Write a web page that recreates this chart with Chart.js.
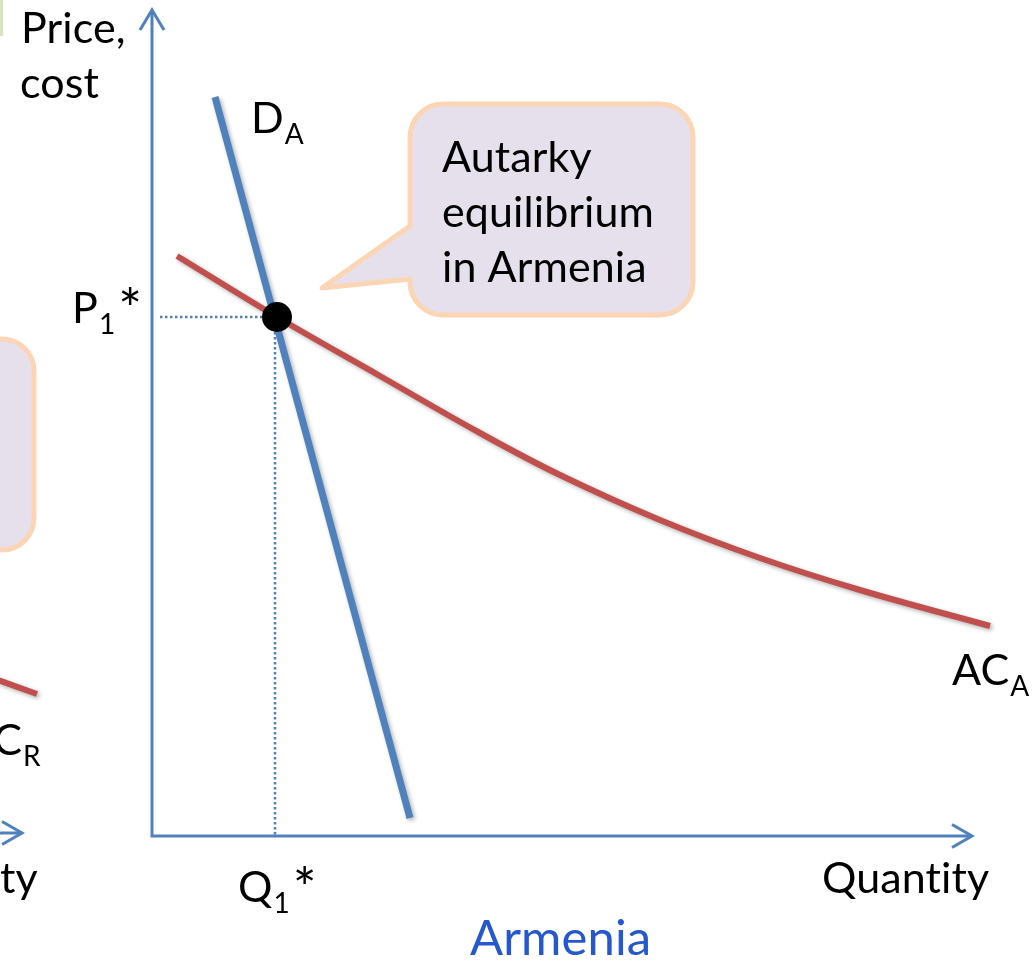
<!DOCTYPE html>
<html>
<head>
<meta charset="utf-8">
<title>Autarky equilibrium in Armenia</title>
<script src="https://cdn.jsdelivr.net/npm/chart.js@4"></script>
<style>
  html, body { margin: 0; padding: 0; background: #fff; }
  canvas { display: block; }
</style>
</head>
<body>
<canvas id="econChart" width="1034" height="961"></canvas>
<script>
// Data (quantity / price units, origin at the Armenia axes corner)
const acQ = [2.5, 12.5, 22.8, 32.8, 40.8, 50.8, 60.8, 70.8, 83.8];
const acP = [58.0, 51.9, 46.0, 40.3, 36.1, 31.6, 27.8, 24.6, 21.0];
const demandQ = [6.3, 25.8];
const demandP = [73.9, 1.8];
const eqQ = [12.5];
const eqP = [51.9];
// piece of the neighbouring (Russia) panel cut off at the left edge
const acRQ = [-15.4, -11.5];
const acRP = [15.6, 14.2];
const axisQMax = 82.0;
const axisPMax = 82.6;
const leftAxisQ = [-16, -13.0];
const leftAxisP = [0.3, 0.3];

const xLabel = "Quantity";
const yLabel = ["Price,", "cost"];
const panelTitle = "Armenia";
const calloutLines = ["Autarky", "equilibrium", "in Armenia"];

const FONT = "Lato, 'Open Sans', sans-serif";
const SIZE = 43;
const BLUE = "#4F81BD";
const RED = "#C0504D";

function pts(xs, ys) {
    return xs.map((x, i) => ({ x: x, y: ys[i] }));
}

// arrow heads built from the axis tips (2 units = 20px)
function arrowUp(x, y) {
    return [{ x: x - 1.2, y: y - 2.0 }, { x: x, y: y }, { x: x + 1.2, y: y - 2.0 }];
}
function arrowRight(x, y) {
    return [{ x: x - 2.0, y: y + 1.15 }, { x: x, y: y }, { x: x - 2.0, y: y - 1.15 }];
}

// drop shadow for the curves
const shadowPlugin = {
    id: "shadow",
    beforeDatasetDraw(chart, args) {
        const ds = chart.data.datasets[args.index];
        if (ds.shadow) {
            const ctx = chart.ctx;
            ctx.save();
            ctx.shadowColor = "rgba(0,0,0,0.3)";
            ctx.shadowBlur = 4;
            ctx.shadowOffsetX = 2;
            ctx.shadowOffsetY = 2;
        }
    },
    afterDatasetDraw(chart, args) {
        const ds = chart.data.datasets[args.index];
        if (ds.shadow) chart.ctx.restore();
    }
};

function subLabel(ctx, x, y, main, sub, tail) {
    ctx.textAlign = "left";
    ctx.textBaseline = "alphabetic";
    ctx.font = SIZE + "px " + FONT;
    ctx.fillText(main, x, y);
    let cx = x + ctx.measureText(main).width;
    ctx.font = Math.round(SIZE * 0.66) + "px " + FONT;
    ctx.fillText(sub, cx + 1, y + 11);
    cx += ctx.measureText(sub).width + 4;
    if (tail) {
        ctx.font = Math.round(SIZE * 1.3) + "px " + FONT;
        ctx.fillText(tail, cx, y + 6);
    }
}

function roundBox(ctx, L, T, R, B, r, tail) {
    ctx.beginPath();
    ctx.moveTo(L + r, T);
    ctx.lineTo(R - r, T);
    ctx.arcTo(R, T, R, T + r, r);
    ctx.lineTo(R, B - r);
    ctx.arcTo(R, B, R - r, B, r);
    ctx.lineTo(L + r, B);
    ctx.arcTo(L, B, L, B - r, r);
    if (tail) {
        ctx.lineTo(L, tail[2][1]);
        ctx.lineTo(tail[1][0], tail[1][1]);
        ctx.lineTo(L, tail[0][1]);
    }
    ctx.lineTo(L, T + r);
    ctx.arcTo(L, T, L + r, T, r);
    ctx.closePath();
    ctx.fillStyle = "#E5E0EC";
    ctx.fill();
    ctx.lineWidth = 5;
    ctx.lineJoin = "round";
    ctx.strokeStyle = "#FCD5B5";
    ctx.stroke();
}

const annotationPlugin = {
    id: "annotations",
    afterDraw(chart) {
        const ctx = chart.ctx;
        const xs = chart.scales.x, ys = chart.scales.y;
        const px = v => xs.getPixelForValue(v);
        const py = v => ys.getPixelForValue(v);
        ctx.save();
        ctx.letterSpacing = "0.1px";

        // boxes
        roundBox(ctx, -60, 339, 34, 550, 32, null);
        roundBox(ctx, 410, 104, 693, 315, 33, [[410, 226], [322, 288], [410, 279]]);

        // green edge of a box cut off at top-left
        ctx.strokeStyle = "#D7E4BD";
        ctx.lineWidth = 4;
        ctx.beginPath();
        ctx.moveTo(1, -5);
        ctx.lineTo(1, 36);
        ctx.stroke();

        ctx.fillStyle = "#000";
        ctx.textAlign = "left";
        ctx.textBaseline = "alphabetic";
        ctx.font = SIZE + "px " + FONT;
        ctx.fillText(yLabel[0], 21, 43);
        ctx.fillText(yLabel[1], 20, 98);
        calloutLines.forEach((t, i) => ctx.fillText(t, 442, 172 + i * 55));
        ctx.fillText(xLabel, 822, 893);

        // left panel leftovers
        ctx.textAlign = "right";
        ctx.fillText("Quanti", 0, 893);
        ctx.textAlign = "left";
        ctx.fillText("ty", 0, 893);

        subLabel(ctx, 251, 133, "D", "A", "");
        subLabel(ctx, px(eqQ[0]) - 205, py(eqP[0]) + 6, "P", "1", "*");
        subLabel(ctx, px(eqQ[0]) - 39, 902, "Q", "1", "*");
        subLabel(ctx, 952, 685, "AC", "A", "");

        ctx.font = SIZE + "px " + FONT;
        const acW = ctx.measureText("AC").width;
        subLabel(ctx, 22 - acW, 755, "AC", "R", "");

        ctx.fillStyle = "#2458CC";
        ctx.font = "49px " + FONT;
        ctx.fillText(panelTitle, 470, 955);
        ctx.restore();
    }
};

function build() {
    const ctx = document.getElementById("econChart").getContext("2d");
    new Chart(ctx, {
        type: "scatter",
        data: {
            datasets: [
                {   // equilibrium point
                    data: pts(eqQ, eqP),
                    pointRadius: 15,
                    pointBackgroundColor: "#000",
                    pointBorderWidth: 0,
                    order: 0
                },
                {   // demand
                    data: pts(demandQ, demandP),
                    showLine: true,
                    borderColor: BLUE,
                    borderWidth: 7,
                    pointRadius: 0,
                    shadow: true,
                    order: 1
                },
                {   // average cost
                    data: pts(acQ, acP),
                    showLine: true,
                    borderColor: RED,
                    borderWidth: 6,
                    tension: 0.4,
                    pointRadius: 0,
                    shadow: true,
                    order: 2
                },
                {   // AC of the left panel
                    data: pts(acRQ, acRP),
                    showLine: true,
                    borderColor: RED,
                    borderWidth: 6,
                    pointRadius: 0,
                    shadow: true,
                    order: 2
                },
                {   // dotted guides
                    data: [{ x: 0.8, y: eqP[0] }, { x: eqQ[0], y: eqP[0] }],
                    showLine: true,
                    borderColor: BLUE,
                    borderWidth: 2.5,
                    borderDash: [2.5, 2.5],
                    pointRadius: 0,
                    order: 3
                },
                {
                    data: [{ x: eqQ[0] - 0.2, y: eqP[0] }, { x: eqQ[0] - 0.2, y: 0 }],
                    showLine: true,
                    borderColor: BLUE,
                    borderWidth: 2.5,
                    borderDash: [2.5, 2.5],
                    pointRadius: 0,
                    order: 3
                },
                {   // axes
                    data: [{ x: 0, y: axisPMax }, { x: 0, y: 0 }, { x: axisQMax, y: 0 }],
                    showLine: true,
                    borderColor: BLUE,
                    borderWidth: 3,
                    pointRadius: 0,
                    order: 4
                },
                {
                    data: arrowUp(0, axisPMax),
                    showLine: true, borderColor: BLUE, borderWidth: 3, pointRadius: 0, order: 4
                },
                {
                    data: arrowRight(axisQMax, 0),
                    showLine: true, borderColor: BLUE, borderWidth: 3, pointRadius: 0, order: 4
                },
                {
                    data: pts(leftAxisQ, leftAxisP),
                    showLine: true, borderColor: BLUE, borderWidth: 3, pointRadius: 0, order: 4
                },
                {
                    data: arrowRight(leftAxisQ[1], leftAxisP[1]),
                    showLine: true, borderColor: BLUE, borderWidth: 3, pointRadius: 0, order: 4
                }
            ]
        },
        options: {
            responsive: false,
            animation: false,
            layout: { padding: 0, autoPadding: false },
            plugins: {
                legend: { display: false },
                tooltip: { enabled: false }
            },
            scales: {
                x: { type: "linear", min: -15.2, max: 88.2, display: false },
                y: { type: "linear", min: -12.5, max: 83.6, display: false }
            }
        },
        plugins: [shadowPlugin, annotationPlugin]
    });
}

document.fonts.load("43px Lato").then(build, build);
</script>
</body>
</html>
